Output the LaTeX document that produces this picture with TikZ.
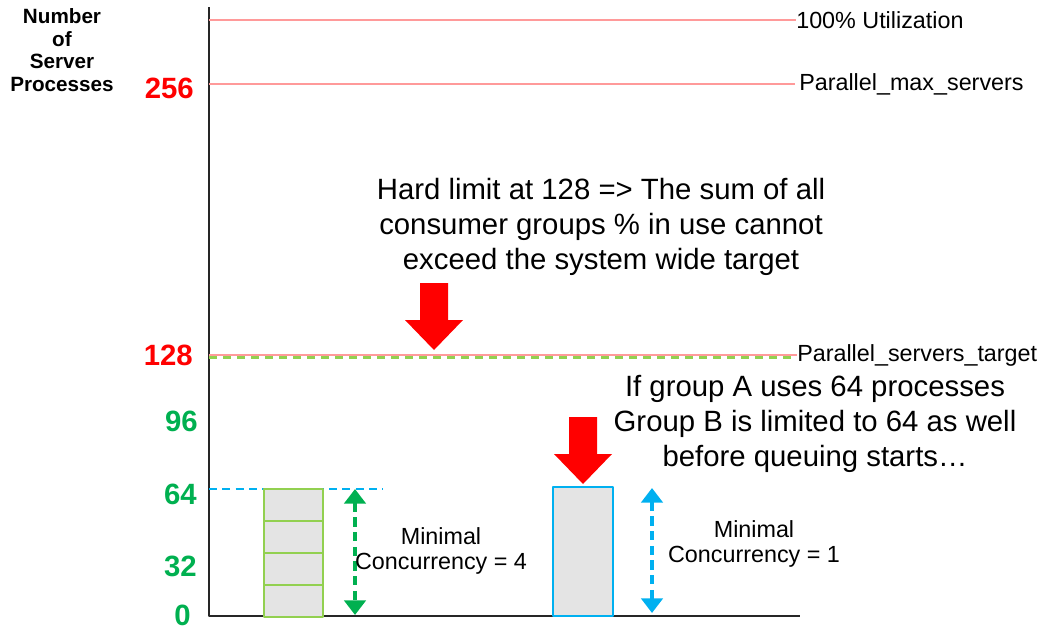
\documentclass[tikz,border=0pt]{standalone}
\usepackage{fontspec}
\setmainfont{Liberation Sans}
\usetikzlibrary{arrows.meta}
\definecolor{limitred}{HTML}{FF9A9A}
\definecolor{hardred}{HTML}{FF0000}
\definecolor{groupgreen}{HTML}{00B050}
\definecolor{stackgreen}{HTML}{92D050}
\definecolor{groupblue}{HTML}{00B0F0}
\definecolor{boxgray}{HTML}{E4E4E4}

\begin{document}
\begin{tikzpicture}[
  x=0.75pt,
  y=-0.75pt,
  line join=round,
  axisline/.style={draw=black!85,line width=2pt},
  limitline/.style={draw=limitred,line width=1pt},
  targetline/.style={draw=stackgreen,line width=1.6pt,dash pattern=on 6pt off 4.5pt},
  groupline/.style={draw=groupblue,line width=1.6pt,dash pattern=on 6pt off 4pt},
  span/.style={line width=3pt,dash pattern=on 7pt off 4pt,{Triangle[length=11pt,width=16pt]}-{Triangle[length=11pt,width=16pt]}},
  cell/.style={fill=boxgray,draw=#1,line width=1.4pt},
  limitlabel/.style={anchor=west,inner sep=0pt,font=\fontsize{17.5pt}{19pt}\selectfont},
  tick/.style={anchor=east,inner sep=0pt,font=\bfseries\fontsize{22pt}{24pt}\selectfont},
  note/.style={align=center,inner sep=0pt,font=\fontsize{22pt}{26pt}\selectfont},
  concurrency/.style={align=center,inner sep=0pt,font=\fontsize{17.5pt}{19pt}\selectfont}
]
  \useasboundingbox (0,0) rectangle (1042,632);

  \newcommand{\redarrow}[3]{% centre x, shaft top, tip
    \fill[hardred] (#1-14,#2) -- (#1+14,#2) -- (#1+14,#3-30) -- (#1+29,#3-30)
      -- (#1,#3) -- (#1-29,#3-30) -- (#1-14,#3-30) -- cycle;
  }

  % Axes
  \coordinate (top) at (209,7);
  \coordinate (origin) at (209,616);
  \coordinate (xend) at (800,616);
  \draw[axisline] (top) -- (origin) -- (xend);

  \node[align=center,inner sep=0pt,font=\bfseries\fontsize{15.5pt}{17pt}\selectfont]
    (ylabel) at (62,50) {Number\\of\\Server\\Processes};

  % Tick values
  \foreach \val/\y/\col/\x in {256/88/hardred/194, 128/355/hardred/193,
      96/421/groupgreen/198, 64/494/groupgreen/197, 32/566/groupgreen/197, 0/615/groupgreen/191} {
    \node[tick,text=\col] (tick\val) at (\x,\y) {\val};
  }

  % Limits
  \node[limitlabel] (util) at (796,20) {100\% Utilization};
  \node[limitlabel] (maxservers) at (799,84) {Parallel\_max\_servers};
  \node[limitlabel] (target) at (797,355) {Parallel\_servers\_target};
  \draw[limitline] (209,20) -- (util.west);
  \draw[limitline] (209,84) -- ([xshift=-3pt]maxservers.west);
  \draw[limitline] (209,355) -- (target.west);
  \draw[targetline] (209,357.5) -- ([xshift=-4pt]target.west |- 0,357.5);

  % Group A: four slots of 16
  \coordinate (aTop) at (209,489);
  \draw[groupline] (aTop) -- (383,489);
  \foreach \i in {0,...,3} {
    \draw[cell=stackgreen] (264,489+32*\i) rectangle (323,521+32*\i);
  }
  \coordinate (aUp) at (355,489);
  \coordinate (aDown) at (355,615);
  \draw[span,groupgreen] (aUp) -- (aDown);
  \node[concurrency] (minA) at (441,551) {Minimal\\Concurrency = 4};

  % Group B: one slot of 64
  \draw[cell=groupblue] (553,487) rectangle (613,616);
  \coordinate (bUp) at (652,488);
  \coordinate (bDown) at (652,613);
  \draw[span,groupblue] (bUp) -- (bDown);
  \node[concurrency] (minB) at (754,544) {Minimal\\Concurrency = 1};

  % Notes
  \node[note] (hardnote) at (601,227)
    {Hard limit at 128 => The sum of all\\consumer groups \% in use cannot\\exceed the system wide target};
  \node[note] (groupnote) at (815,424)
    {If group A uses 64 processes\\Group B is limited to 64 as well\\before queuing starts…};
  \redarrow{434}{283}{350}
  \redarrow{583}{417}{484}
\end{tikzpicture}
\end{document}
